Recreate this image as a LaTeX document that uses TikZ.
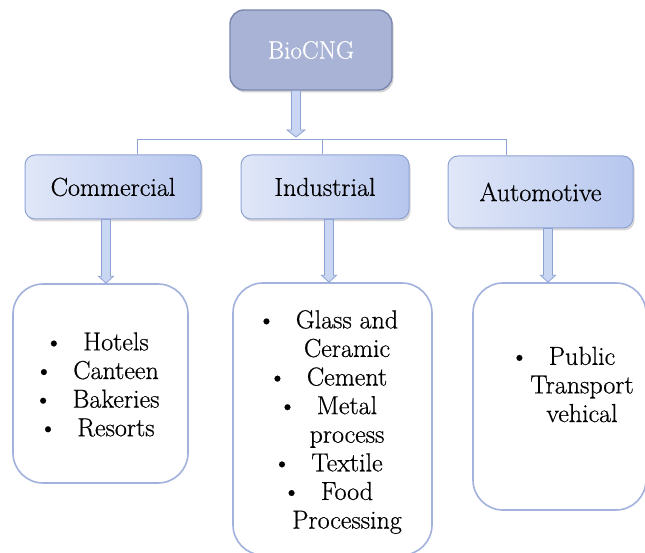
\documentclass[tikz,border=0pt]{standalone}
\usepackage{fontspec}
\setmainfont{Latin Modern Roman}[FakeBold=0.6]
\usetikzlibrary{shadows,calc}
\definecolor{hdrA}{HTML}{E0E7F8}
\definecolor{hdrB}{HTML}{B6C6EE}
\definecolor{hdrLine}{HTML}{8FA2D4}
\definecolor{bioFill}{HTML}{A8B3D5}
\definecolor{bioLine}{HTML}{7A87AE}
\definecolor{lstLine}{HTML}{A2B2DC}
\definecolor{arrFill}{HTML}{CAD7F3}
\definecolor{connLine}{HTML}{8FA2D4}
\newcommand\bul{\llap{\textbullet\hspace{20pt}}}
\newcommand\barrow[4]{%
  \filldraw[blockarr] let \p1=(#1), \p2=(#2) in
    ({#3pt-4.5pt},\y1) -- ({#3pt+4.5pt},\y1) -- ({#3pt+4.5pt},{\y2+7pt})
    -- ({#3pt+#4pt},{\y2+7pt}) -- (#3pt,\y2) -- ({#3pt-#4pt},{\y2+7pt})
    -- ({#3pt-4.5pt},{\y2+7pt}) -- cycle;}
\begin{document}
\begin{tikzpicture}[x=1pt,y=1pt,
  biobox/.style={draw=bioLine, line width=1.4pt, fill=bioFill, rounded corners=14pt,
    text=white, font=\fontsize{25}{28}\selectfont, inner sep=0pt,
    drop shadow={shadow xshift=1.5pt, shadow yshift=-2.5pt, opacity=0.35, fill=gray}},
  hdrbox/.style={draw=hdrLine, line width=1pt, left color=hdrA, right color=hdrB,
    rounded corners=10pt, inner sep=0pt, font=\fontsize{26}{28}\selectfont,
    drop shadow={shadow xshift=1.5pt, shadow yshift=-2.5pt, opacity=0.3, fill=gray}},
  lstbox/.style={draw=lstLine, line width=1.6pt, fill=white, rounded corners=30pt, inner sep=0pt},
  lsttext/.style={align=center, inner sep=0pt, font=\fontsize{26}{28.6}\selectfont},
  conn/.style={draw=connLine, line width=0.9pt},
  blockarr/.style={draw=hdrLine, fill=arrFill, line width=0.8pt, line join=miter}]
\useasboundingbox (0,0) rectangle (645,552);
\fill[white] (0,0) rectangle (645,552);

% top node
\node[biobox, minimum width=162pt, minimum height=80pt] (bio) at (311,502) {BioCNG};

% category nodes
\node[hdrbox, minimum width=176pt, minimum height=64pt] (comm) at (113,365) {Commercial};
\node[hdrbox, minimum width=168pt, minimum height=64pt] (ind) at (325,365) {Industrial};
\node[hdrbox, minimum width=185pt, minimum height=72pt] (auto) at (540.5,360) {Automotive};

% list boxes
\node[lstbox, minimum width=175pt, minimum height=199pt] (lcomm) at (100.5,168.5) {};
\node[lstbox, minimum width=199pt, minimum height=272pt] (lind) at (332.5,133) {};
\node[lstbox, minimum width=173pt, minimum height=227pt] (lauto) at (559.5,155.5) {};

% list texts
\node[lsttext] (tcomm) at (116,167.5) {\bul Hotels\\ \bul Canteen\\ \bul Bakeries\\ \bul Resorts};
\node[lsttext] (tind) at (347,130) {\bul Glass and\\ Ceramic\\ \bul Cement\\ \bul Metal\\ process\\ \bul Textile\\ \bul Food\\ Processing};
\node[lsttext] (tauto) at (582,167.5) {\bul Public\\ Transport\\ vehical};

% connector tree
\coordinate (jl) at (137,413);
\coordinate (jm) at (322,413);
\coordinate (jr) at (506,413);
\coordinate (jb) at (296,415);
\draw[conn] (jl |- comm.north) -- (jl) -- (jr) -- (jr |- auto.north);
\draw[conn] (jm) -- (jm |- ind.north);

% block arrows
\barrow{bio.south}{jb}{296}{9}
\barrow{comm.south}{lcomm.north}{106}{7.5}
\barrow{ind.south}{lind.north}{329}{7.5}
\barrow{auto.south}{lauto.north}{548}{7.5}
\end{tikzpicture}
\end{document}
